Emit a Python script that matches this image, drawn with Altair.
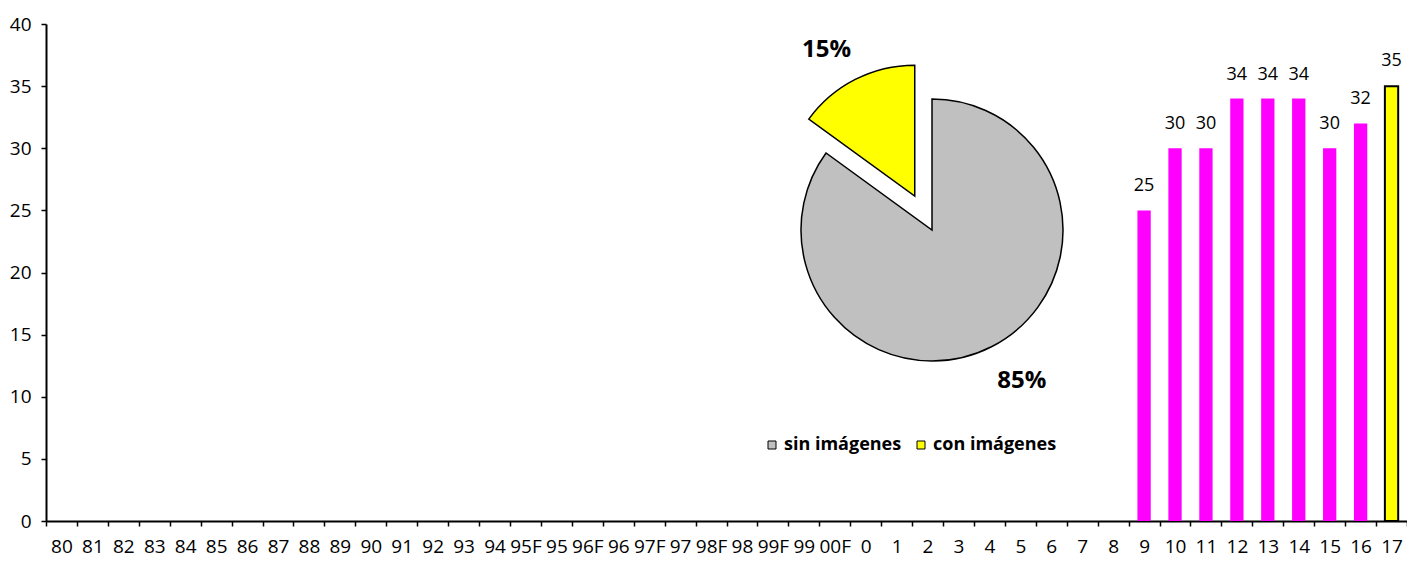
import math
import altair as alt
import pandas as pd

# ---------------- data ----------------
categories = (
    [str(y) for y in range(80, 95)]
    + ["95F", "95", "96F", "96", "97F", "97", "98F", "98", "99F", "99", "00F"]
    + [str(y) for y in range(0, 18)]
)
bar_years = ["9", "10", "11", "12", "13", "14", "15", "16"]
bar_values = [25, 30, 30, 34, 34, 34, 30, 32]
highlight_years = ["17"]
highlight_values = [35]

pie_labels = ["sin imágenes", "con imágenes"]
pie_values = [85, 15]
pie_colors = ["#C0C0C0", "#FFFF00"]

# ---------------- tables ----------------
bars_df = pd.DataFrame({"year": bar_years, "value": bar_values})
hl_df = pd.DataFrame({"year": highlight_years, "value": highlight_values})

total = sum(pie_values)
starts, ends = [], []
acc = 0
for v in pie_values:
    starts.append(acc / total * 2 * math.pi)
    acc += v
    ends.append(acc / total * 2 * math.pi)
pie_df = pd.DataFrame({
    "label": pie_labels,
    "value": pie_values,
    "t0": starts,
    "t1": ends,
    "mid": [(a + b) / 2 for a, b in zip(starts, ends)],
    "pct": [f"{round(v / total * 100)}%" for v in pie_values],
})

FONT = "Open Sans"
PW, PH = 1361, 497

x_scale = alt.Scale(domain=categories, paddingInner=0, paddingOuter=0)
y_scale = alt.Scale(domain=[0, 40])

x_enc = alt.X(
    "year:N",
    scale=x_scale,
    sort=categories,
    axis=alt.Axis(
        title=None, labelAngle=0, tickBand="extent", tickSize=5, tickWidth=1.5,
        tickColor="black", domainColor="black", domainWidth=2,
        labelFont=FONT, labelFontSize=19, labelColor="black", labelPadding=11,
        grid=False, labelOverlap=False,
    ),
)
y_enc = alt.Y(
    "value:Q",
    scale=y_scale,
    axis=alt.Axis(
        title=None, values=list(range(0, 41, 5)), tickSize=5, tickWidth=1.5,
        tickColor="black", domainColor="black", domainWidth=2,
        labelFont=FONT, labelFontSize=19, labelColor="black", labelPadding=10,
        grid=False,
    ),
)

BAR_W = alt.RelativeBandSize(0.43)

bars = alt.Chart(bars_df).mark_bar(color="#FF00FF", width=BAR_W).encode(x=x_enc, y=y_enc)
bar_text = alt.Chart(bars_df).mark_text(
    font=FONT, fontSize=18, color="black", baseline="middle", dy=-24
).encode(x=alt.X("year:N", scale=x_scale), y=alt.Y("value:Q", scale=y_scale), text="value:Q")

hl = alt.Chart(hl_df).mark_bar(color="#FFFF00", stroke="black", strokeWidth=2, width=BAR_W).encode(
    x=alt.X("year:N", scale=x_scale), y=alt.Y("value:Q", scale=y_scale)
)
hl_text = alt.Chart(hl_df).mark_text(
    font=FONT, fontSize=18, color="black", baseline="middle", dy=-25
).encode(x=alt.X("year:N", scale=x_scale), y=alt.Y("value:Q", scale=y_scale), text="value:Q")

# ---------------- pie inset ----------------
CX, CY, R = 886, 206, 131
EXPLODE = 38
ex_mid = pie_df["mid"][1]
YX = CX + EXPLODE * math.sin(ex_mid)
YY = CY - EXPLODE * math.cos(ex_mid)

color_enc = alt.Color(
    "label:N",
    scale=alt.Scale(domain=pie_labels, range=pie_colors),
    legend=alt.Legend(
        orient="none", legendX=717, legendY=412, direction="horizontal", title=None,
        symbolType="square", symbolSize=64, symbolStrokeColor="black",
        symbolStrokeWidth=1, symbolOpacity=1, labelFont=FONT, labelFontSize=18,
        labelFontWeight="bold", labelColor="black", columnPadding=10, labelOffset=3,
        gridAlign="none", padding=0,
    ),
)

pie_base = alt.Chart(pie_df)
gray = pie_base.transform_filter(alt.datum.label == pie_labels[0]).mark_arc(
    radius=R, stroke="black", strokeWidth=1.5, opacity=1
).encode(
    theta=alt.Theta("t0:Q", scale=None), theta2="t1:Q", color=color_enc,
    x=alt.value(CX), y=alt.value(CY),
)
yellow = pie_base.transform_filter(alt.datum.label == pie_labels[1]).mark_arc(
    radius=R, stroke="black", strokeWidth=1.5, opacity=1
).encode(
    theta=alt.Theta("t0:Q", scale=None), theta2="t1:Q", color=color_enc,
    x=alt.value(YX), y=alt.value(YY),
)
gray_lbl = pie_base.transform_filter(alt.datum.label == pie_labels[0]).mark_text(
    radius=176, font=FONT, fontSize=24, fontWeight="bold", color="black",
    baseline="middle", dx=10, dy=-6,
).encode(theta=alt.Theta("mid:Q", scale=None), text="pct:N", x=alt.value(CX), y=alt.value(CY))
yellow_lbl = pie_base.transform_filter(alt.datum.label == pie_labels[1]).mark_text(
    radius=170, font=FONT, fontSize=24, fontWeight="bold", color="black",
    baseline="middle", dx=-11, dy=5,
).encode(theta=alt.Theta("mid:Q", scale=None), text="pct:N", x=alt.value(YX), y=alt.value(YY))

chart = (
    alt.layer(bars, hl, bar_text, hl_text, gray, yellow, gray_lbl, yellow_lbl)
    .properties(
        width=PW, height=PH,
        autosize=alt.AutoSizeParams(type="none"),
        padding={"left": 38, "top": 16, "right": 0, "bottom": 36},
        background="white",
    )
    .configure_view(stroke=None)
)

chart.save("out.html", embed_options={"renderer": "svg", "actions": False})
